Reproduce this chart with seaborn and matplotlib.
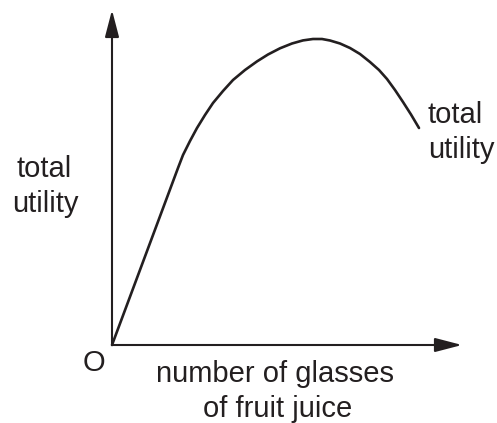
import numpy as np
import pandas as pd
import matplotlib
matplotlib.use("Agg")
import matplotlib.pyplot as plt
import seaborn as sns

# glasses of juice vs total utility
glasses = [0, 66, 71, 78, 85, 93, 101, 111, 121, 133, 145, 156, 168, 180,
           191, 201, 210, 218, 228, 238, 248, 258, 267, 275, 283, 291, 299, 307]
utility = [0, 177, 190, 204, 217, 230, 242, 254, 265, 275, 283.6, 290.5, 296.7, 301.5,
           304.6, 306, 306, 304.5, 301.5, 297, 291, 283, 275, 266, 255, 243, 230.5, 217]

df = pd.DataFrame({"glasses": glasses, "utility": utility})

sns.set_style("white")
plt.rcParams['font.family'] = ['Liberation Sans', 'DejaVu Sans']

fig = plt.figure(figsize=(4.97, 4.23), dpi=100)
ax = fig.add_axes([0, 0, 1, 1])
ax.set_xlim(-112, 385)
ax.set_ylim(-78, 345)
ax.axis("off")

col = "#231f20"

# axes with arrow heads
head = "-|>,head_length=1.65,head_width=0.43"
ax.annotate("", xy=(350, 0), xytext=(0, 0),
            arrowprops=dict(arrowstyle=head, color=col, lw=1.5,
                            shrinkA=0, shrinkB=0))
ax.annotate("", xy=(0, 335), xytext=(0, 0),
            arrowprops=dict(arrowstyle=head, color=col, lw=1.5,
                            shrinkA=0, shrinkB=0))

sns.lineplot(data=df, x="glasses", y="utility", ax=ax, color=col, lw=1.9,
             sort=False)

fs = 21
ax.text(-68, 168, "total", ha="center", va="baseline", fontsize=fs, color=col)
ax.text(-67, 133, "utility", ha="center", va="baseline", fontsize=fs, color=col)
ax.text(316, 222, "total", ha="left", va="baseline", fontsize=fs, color=col)
ax.text(316, 187, "utility", ha="left", va="baseline", fontsize=fs, color=col)
ax.text(-18, -17.5, "O", ha="center", va="center", fontsize=fs, color=col)
ax.text(162.5, -37, "number of glasses", ha="center", va="baseline",
        fontsize=fs, color=col)
ax.text(165.5, -72, "of fruit juice", ha="center", va="baseline",
        fontsize=fs, color=col)

fig.savefig("out.png", dpi=100)
